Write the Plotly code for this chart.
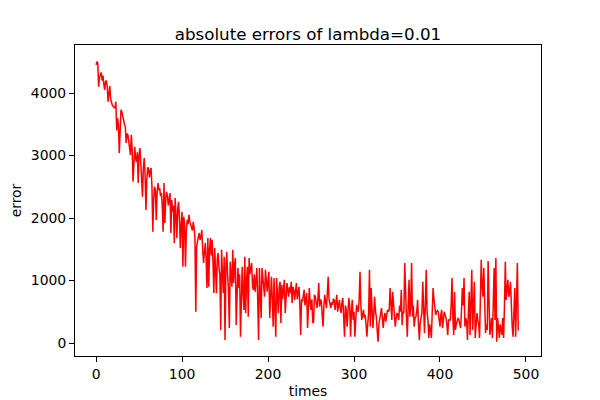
import plotly.graph_objects as go

# absolute error per iteration (lambda = 0.01)
errors = [
    4450, 4500, 4480, 4100, 4250, 4320, 4330, 4200, 4280, 4150,
    4050, 4180, 4200, 4100, 3860, 4000, 4110, 3900, 3840, 3800,
    3780, 3760, 3760, 3860, 3400, 3600, 3500, 3040, 3500, 3730,
    3700, 3600, 3570, 3500, 3460, 3200, 3350, 3330, 3200, 3100,
    3010, 3330, 3100, 2580, 3000, 3140, 2950, 2900, 3050, 2560,
    3000, 3120, 2900, 2700, 2340, 2800, 2960, 2700, 2130, 2600,
    2800, 2800, 2650, 2750, 2800, 2500, 1780, 2300, 2500, 2450,
    1970, 2400, 2560, 2450, 2480, 2350, 2400, 2200, 1780, 2560,
    1920, 2300, 2420, 2350, 2200, 2300, 2400, 1760, 2290, 2100,
    2200, 1600, 2320, 2050, 1680, 2150, 2260, 2000, 1520, 1900,
    2100, 1220, 2020, 1900, 1220, 1800, 1970, 1900, 2050, 1950,
    1900, 1860, 1800, 1940, 1850, 1680, 500, 1550, 1650, 1700,
    1760, 1650, 1700, 1810, 1500, 1280, 1450, 1600, 1350, 880,
    1680, 900, 1500, 1680, 1400, 1650, 1300, 800, 1520, 1200,
    800, 1350, 1440, 1200, 1090, 210, 1490, 1100, 800, 1380,
    50, 1200, 1460, 1100, 850, 240, 1300, 1090, 900, 1490,
    960, 1250, 1360, 290, 1000, 1200, 880, 1100, 100, 900,
    1220, 800, 530, 1380, 480, 1000, 1220, 420, 1360, 1100,
    1200, 1280, 900, 850, 1100, 820, 1000, 1200, 700, 50,
    1200, 900, 400, 1200, 1000, 900, 740, 1170, 950, 820,
    1000, 1140, 400, 900, 1060, 700, 260, 1040, 600, 100,
    1040, 800, 480, 900, 980, 320, 930, 700, 850, 1010,
    480, 800, 960, 850, 740, 900, 800, 980, 640, 900,
    850, 690, 800, 960, 700, 820, 900, 600, 130, 700,
    660, 750, 850, 600, 740, 800, 240, 700, 880, 650,
    530, 700, 320, 340, 770, 740, 650, 560, 700, 960,
    580, 700, 660, 500, 260, 600, 770, 650, 560, 800,
    1060, 700, 600, 560, 650, 610, 700, 690, 530, 650,
    770, 500, 600, 690, 550, 480, 650, 720, 400, 100,
    600, 530, 260, 500, 720, 600, 100, 500, 690, 370,
    500, 100, 400, 610, 550, 500, 700, 1140, 600, 370,
    450, 530, 400, 450, 300, 100, 300, 480, 1170, 260,
    880, 500, 240, 450, 740, 500, 420, 200, 20, 300,
    420, 500, 560, 400, 240, 400, 480, 340, 500, 530,
    500, 530, 880, 500, 370, 820, 600, 500, 260, 400,
    480, 450, 370, 600, 500, 850, 290, 500, 480, 1280,
    700, 420, 100, 500, 1010, 420, 600, 1280, 420, 600,
    260, 400, 420, 500, 690, 300, 50, 320, 400, 480,
    980, 400, 160, 600, 1170, 500, 370, 80, 300, 210,
    80, 500, 880, 700, 530, 450, 500, 520, 500, 400,
    260, 450, 530, 240, 400, 500, 450, 400, 300, 130,
    370, 370, 370, 600, 1040, 400, 130, 820, 210, 300,
    370, 400, 370, 300, 240, 500, 880, 600, 1040, 260,
    400, 340, 50, 500, 820, 130, 500, 1170, 210, 600,
    980, 80, 300, 480, 370, 300, 80, 600, 1330, 900,
    740, 1200, 400, 160, 300, 210, 1310, 500, 130, 260,
    400, 80, 700, 1200, 370, 1360, 20, 400, 260, 80,
    300, 240, 130, 400, 80, 600, 1300, 690, 900, 1010,
    740, 800, 980, 500, 260, 100, 500, 880, 100, 600,
    1280, 200,
]
times = list(range(len(errors)))

xticks = [0, 100, 200, 300, 400, 500]
yticks = [0, 1000, 2000, 3000, 4000]

fig = go.Figure()
fig.add_trace(go.Scatter(x=times, y=errors, mode="lines",
                         line=dict(color="red", width=1.5)))

axis_style = dict(showgrid=False, zeroline=False, showline=True, mirror=True,
                  linecolor="black", linewidth=1, ticks="outside", ticklen=5,
                  tickcolor="black", automargin=False,
                  tickfont=dict(size=13.9, color="black"))

# the page body has an 8px margin, so the margins below are shifted by 8
fig.update_layout(
    width=600, height=400,
    margin=dict(l=67, r=67, t=37, b=52),
    paper_bgcolor="white", plot_bgcolor="white",
    font=dict(family="DejaVu Sans", color="black"),
    showlegend=False,
    title=dict(text="absolute errors of lambda=0.01", x=0.5, xanchor="center",
               y=1 - 26 / 400, yanchor="middle", font=dict(size=16.7)),
    xaxis=dict(range=[-24.5, 517.5], tickvals=xticks,
               title=dict(text="times", font=dict(size=13.9), standoff=5),
               **axis_style),
    yaxis=dict(range=[-208, 4768], tickvals=yticks,
               title=dict(text="error", font=dict(size=13.9), standoff=13),
               **axis_style),
)

fig.write_html("out.html")
